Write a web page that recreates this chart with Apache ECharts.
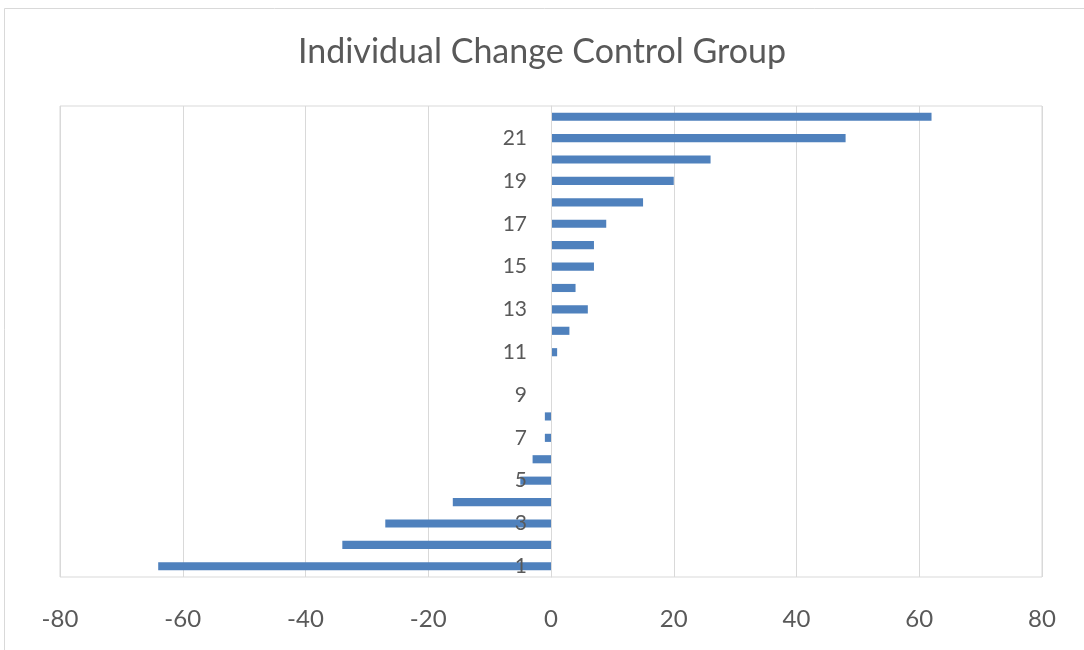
<!DOCTYPE html>
<html>
<head>
<meta charset="utf-8">
<style>
html, body { margin: 0; padding: 0; background: #fff; }
#chart { width: 1084px; height: 650px; }
</style>
<script src="https://cdn.jsdelivr.net/npm/echarts@6/dist/echarts.min.js"></script>
</head>
<body>
<div id="chart"></div>
<script>
// 22 individuals, change values
const categories = ['1', '2', '3', '4', '5', '6', '7', '8', '9', '10', '11',
  '12', '13', '14', '15', '16', '17', '18', '19', '20', '21', '22']
const changes = [-64, -34, -27, -16, -5, -3, -1, -1, 0, 0, 1,
  3, 6, 4, 7, 7, 9, 15, 20, 26, 48, 62]
const xTicks = { min: -80, max: 80, step: 20 }

const gridLeft = 60
const gridRight = 42
const chartW = 1084
// put the category axis (and its labels) at x = 0, like Excel does
const zeroX = gridLeft + (chartW - gridLeft - gridRight) * (0 - xTicks.min) / (xTicks.max - xTicks.min)

const myChart = echarts.init(document.getElementById('chart'))
myChart.setOption({
  animation: false,
  title: {
    text: 'Individual Change Control Group',
    left: 'center',
    top: 30,
    textStyle: { color: '#595959', fontSize: 34, fontWeight: 'normal', fontFamily: 'Lato' }
  },
  graphic: [{
    type: 'rect',
    shape: { x: 4.5, y: 8.5, width: 1200, height: 800 },
    style: { fill: 'none', stroke: '#d9d9d9', lineWidth: 1 }
  }],
  grid: {
    left: gridLeft,
    right: gridRight,
    top: 106,
    bottom: 73,
    show: true,
    borderColor: '#d9d9d9',
    borderWidth: 1
  },
  xAxis: {
    type: 'value',
    min: xTicks.min,
    max: xTicks.max,
    interval: xTicks.step,
    axisLine: { show: false },
    axisTick: { show: false },
    splitLine: { lineStyle: { color: '#d9d9d9', width: 1 } },
    axisLabel: { color: '#595959', fontSize: 24, fontFamily: 'Lato', margin: 30 }
  },
  yAxis: {
    type: 'category',
    data: categories,
    offset: gridLeft - zeroX,
    z: 5,
    axisLine: { lineStyle: { color: '#d9d9d9', width: 1 } },
    axisTick: { show: false },
    axisLabel: { color: '#595959', fontSize: 21, fontFamily: 'Lato', interval: 1, margin: 24 }
  },
  series: [{
    type: 'bar',
    data: changes,
    barWidth: '38%',
    itemStyle: { color: '#4f81bd' }
  }]
})
</script>
</body>
</html>
